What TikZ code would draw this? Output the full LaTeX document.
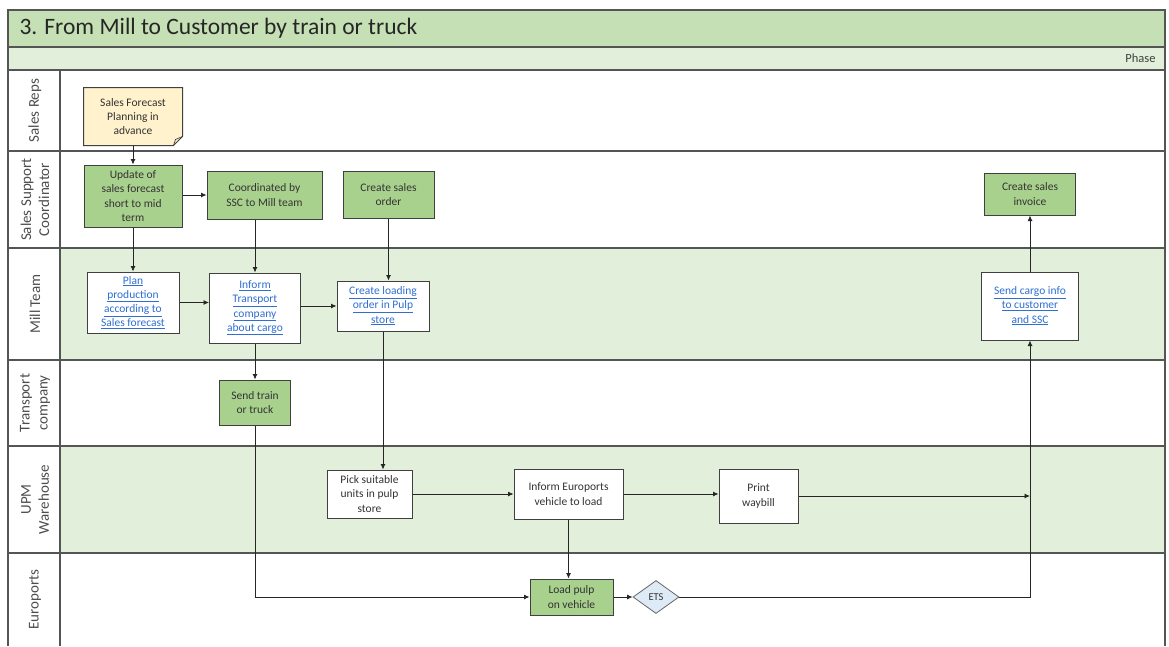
\documentclass[tikz,border=0pt]{standalone}
\usepackage{fontspec}
\setmainfont{Carlito}
\usetikzlibrary{arrows.meta,shapes.geometric,calc}

\definecolor{bandgreen}{HTML}{C5E0B4}
\definecolor{lanegreen}{HTML}{E2EFDA}
\definecolor{taskgreen}{HTML}{A9D18E}
\definecolor{notefill}{HTML}{FFF2CC}
\definecolor{linkblue}{HTML}{2F6FD0}
\definecolor{gateblue}{HTML}{DEEBF7}
\definecolor{frameline}{HTML}{555555}
\definecolor{boxline}{HTML}{404040}
\definecolor{labeltext}{HTML}{4D4D4D}

\newcommand{\lk}[1]{\underline{#1}}

\tikzset{
  x=1pt, y=-1pt,
  laneline/.style={draw=frameline, line width=1.1pt},
  lanelabel/.style={rotate=90, align=center, text=labeltext,
    font=\fontsize{15}{18}\selectfont, inner sep=0pt},
  taskbase/.style={draw=boxline, line width=1pt, align=center, inner sep=1pt,
    font=\fontsize{11.5}{14.2}\selectfont, text=black!80},
  greentask/.style={taskbase, fill=taskgreen},
  whitetask/.style={taskbase, fill=white},
  linktask/.style={taskbase, fill=white, text=linkblue},
  notebox/.style={taskbase, draw=none, fill=none},
  gate/.style={diamond, aspect=1.4, draw=boxline!80, line width=0.8pt, fill=gateblue,
    inner sep=0pt, font=\fontsize{10.5}{12}\selectfont, text=black!80},
  flow/.style={draw=black!85, line width=0.8pt, -{Latex[length=5.5pt,width=5pt]}},
}

\begin{document}
\begin{tikzpicture}
\useasboundingbox (0,0) rectangle (1169,646);

% ---- bands and lanes ----
\fill[bandgreen] (8,10) rectangle (1165,47);
\fill[lanegreen] (8,47) rectangle (1165,70);
\fill[lanegreen] (60,248) rectangle (1165,360);
\fill[lanegreen] (60,446) rectangle (1165,553);

\draw[laneline] (8,646) -- (8,10) -- (1165,10) -- (1165,646);
\draw[laneline] (8,47) -- (1165,47);
\draw[laneline] (8,70) -- (1165,70);
\foreach \yy in {151,248,360,446,553}
  \draw[laneline] (8,\yy) -- (1165,\yy);
\draw[laneline] (60,70) -- (60,646);

\node[anchor=west, font=\fontsize{23.5}{26}\selectfont, text=black!85] (title) at (16,28.5)
  {3. From Mill to Customer by train or truck};
\node[anchor=east, font=\fontsize{12.5}{14}\selectfont, text=black!75] (phase) at (1159,58.5) {Phase};

\node[lanelabel] (l1) at (35,110.5) {Sales Reps};
\node[lanelabel] (l2) at (35,199.5) {Sales Support\\Coordinator};
\node[lanelabel] (l3) at (35,304) {Mill Team};
\node[lanelabel] (l4) at (35,403) {Transport\\company};
\node[lanelabel] (l5) at (35,499.5) {UPM\\Warehouse};
\node[lanelabel] (l6) at (35,599.5) {Euroports};

% ---- Sales Reps ----
\node[notebox, minimum width=98pt, minimum height=57pt] (note) at (133,116.5)
  {Sales Forecast\\Planning in\\advance};
\draw[boxline, line width=1pt, fill=notefill]
  (note.north west) -- (note.north east) -- ($(note.south east)+(0,9pt)$)
  -- ($(note.south east)+(-9pt,0)$) -- (note.south west) -- cycle;
\draw[boxline, line width=0.7pt]
  ($(note.south east)+(0,9pt)$) -- ($(note.south east)+(-7pt,6pt)$) -- ($(note.south east)+(-9pt,0)$);
\node[notebox, minimum width=98pt, minimum height=57pt] at (note) {Sales Forecast\\Planning in\\advance};

% ---- Sales Support Coordinator ----
\node[greentask, minimum width=98pt, minimum height=62pt] (upd) at (133,196)
  {Update of\\sales forecast\\short to mid\\term};
\node[greentask, minimum width=115pt, minimum height=48pt] (coord) at (264.5,195)
  {Coordinated by\\SSC to Mill team};
\node[greentask, minimum width=91pt, minimum height=47pt] (cso) at (388.5,194.5)
  {Create sales\\order};
\node[greentask, minimum width=91pt, minimum height=42pt] (csi) at (1030,194)
  {Create sales\\invoice};

% ---- Mill Team ----
\node[linktask, minimum width=92pt, minimum height=61pt] (plan) at (133,302.5)
  {\lk{Plan}\\\lk{production}\\\lk{according to}\\\lk{Sales forecast}};
\node[linktask, minimum width=91pt, minimum height=70pt] (inft) at (255,308)
  {\lk{Inform}\\\lk{Transport}\\\lk{company}\\\lk{about cargo}};
\node[linktask, minimum width=92pt, minimum height=50pt] (clo) at (383,306)
  {\lk{Create loading}\\\lk{order in Pulp}\\\lk{store}};
\node[linktask, minimum width=97pt, minimum height=68pt] (sci) at (1030,306)
  {\lk{Send cargo info}\\\lk{to customer}\\\lk{and SSC}};

% ---- Transport company ----
\node[greentask, minimum width=71pt, minimum height=45pt] (stt) at (255,402.5)
  {Send train\\or truck};

% ---- UPM Warehouse ----
\node[whitetask, minimum width=85pt, minimum height=48pt] (pick) at (369.5,494)
  {Pick suitable\\units in pulp\\store};
\node[whitetask, minimum width=109pt, minimum height=50pt] (ieu) at (568.5,494)
  {Inform Euroports\\vehicle to load};
\node[whitetask, minimum width=79pt, minimum height=54pt] (pw) at (758.5,496)
  {Print\\waybill};

% ---- Euroports ----
\node[greentask, minimum width=83pt, minimum height=36pt] (lpv) at (571.5,597)
  {Load pulp\\on vehicle};
\node[gate, minimum width=46pt, minimum height=33pt] (ets) at (656,597) {ETS};

\coordinate (join) at (sci.south |- pw.east);

% ---- connectors ----
\draw[flow] (note.south) -- (upd.north);
\draw[flow] (coord.west -| upd.east) -- (coord.west);
\draw[flow] (upd.south) -- (plan.north);
\draw[flow] (coord.south -| inft.north) -- (inft.north);
\draw[flow] (cso.south) -- (cso.south |- clo.north);
\draw[flow] (plan.east) -- (plan.east -| inft.west);
\draw[flow] (clo.west -| inft.east) -- (clo.west);
\draw[flow] (inft.south) -- (stt.north);
\draw[flow] (clo.south) -- (clo.south |- pick.north);
\draw[flow] (stt.south) |- (lpv.west);
\draw[flow] (pick.east) -- (pick.east -| ieu.west);
\draw[flow] (ieu.east) -- (ieu.east -| pw.west);
\draw[flow] (ieu.south) -- (ieu.south |- lpv.north);
\draw[flow] (lpv.east) -- (ets.west);
\draw[flow] (ets.east) -| (sci.south);
\draw[flow] (pw.east |- join) -- (join);
\draw[flow] (sci.north) -- (csi.south);
\end{tikzpicture}
\end{document}
